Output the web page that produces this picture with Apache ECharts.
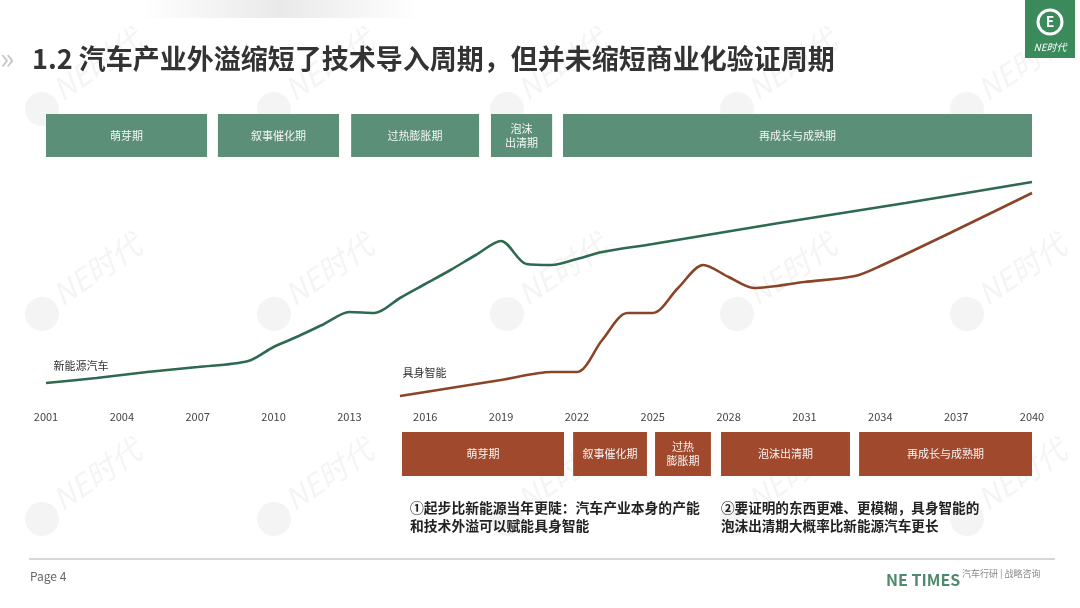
<!DOCTYPE html>
<html><head><meta charset="utf-8">
<script src="https://cdn.jsdelivr.net/npm/echarts@6/dist/echarts.min.js"></script>
<style>html,body{margin:0;padding:0;background:#fff}#c{width:1080px;height:608px}</style>
</head><body><div id="c"></div>
<script>
// ---- data ----
const xTicks = [2001,2004,2007,2010,2013,2016,2019,2022,2025,2028,2031,2034,2037,2040];
const nevName = '新能源汽车';
const nevYears  = [2001,2003,2005,2007,2009,2010,2011,2012,2013,2014,2015,2016,2017,2018,2019,2020,2021,2022,2023,2025,2030,2035,2040];
const nevValues = [17,22,28,33,39,53,64,76,88,87,102,116,130,145,159,136,135,141,148,156,177,197,218];
const eaiName = '具身智能';
const eaiYears  = [2015,2017,2019,2021,2022,2023,2024,2025,2026,2027,2028,2029,2031,2033,2034,2037,2040];
const eaiValues = [4,12,20,28,28,60,87,87,112,135,123,112,118,124,134,170,207];
const nevPhaseNames = ['萌芽期','叙事催化期','过热膨胀期','泡沫\n出清期','再成长与成熟期'];
const nevPhaseStart = [2001.0, 2007.8, 2013.07, 2018.6, 2021.45];
const nevPhaseEnd   = [2007.37, 2012.59, 2018.13, 2021.02, 2040];
const eaiPhaseNames = ['萌芽期','叙事催化期','过热\n膨胀期','泡沫出清期','再成长与成熟期'];
const eaiPhaseStart = [2015.08, 2021.85, 2025.09, 2027.7, 2033.16];
const eaiPhaseEnd   = [2021.49, 2024.77, 2027.3, 2032.8, 2040];
const titleText = '1.2 汽车产业外溢缩短了技术导入周期，但并未缩短商业化验证周期';
const note1 = '①起步比新能源当年更陡：汽车产业本身的产能\n和技术外溢可以赋能具身智能';
const note2 = '②要证明的东西更难、更模糊，具身智能的\n泡沫出清期大概率比新能源汽车更长';

// ---- styles ----
const FONT = '"Noto Sans CJK SC","Noto Sans",sans-serif';
const GREEN_BOX = '#5b8f78', GREEN_LINE = '#2e6a4f';
const BROWN_BOX = '#a1492c', BROWN_LINE = '#8a4427';

function phaseRender(names, y0, y1, fill) {
  return function (params, api) {
    const s = api.coord([api.value(0), 0])[0];
    const e = api.coord([api.value(1), 0])[0];
    return { type: 'group', children: [
      { type: 'rect', shape: { x: s, y: y0, width: e - s, height: y1 - y0 }, style: { fill: fill } },
      { type: 'text', style: { text: names[params.dataIndex], x: (s + e) / 2, y: (y0 + y1) / 2,
          align: 'center', verticalAlign: 'middle', fill: '#f6f6f6',
          font: '11px ' + FONT, lineHeight: 14 } }
    ]};
  };
}

function lineLabel(name, x, y, off) {
  return { symbol: 'circle', symbolSize: 1, silent: true,
    itemStyle: { color: 'rgba(0,0,0,0)' },
    data: [{ coord: [x, y], label: { show: true, formatter: name, position: 'right', distance: 5,
      offset: off, color: '#333', fontSize: 11, fontFamily: FONT } }] };
}

// watermarks
const wm = [];
[95, 300, 505].forEach(cy => {
  [80, 312, 545, 775, 1005].forEach(cx => {
    wm.push({ type: 'circle', silent: true, z: -10, shape: { cx: cx - 38, cy: cy + 14, r: 17 },
      style: { fill: 'rgba(205,205,205,0.22)' } });
    wm.push({ type: 'text', silent: true, z: -10, x: cx - 16, y: cy + 10, rotation: 0.6,
      style: { text: 'NE时代', font: 'italic 30px ' + FONT, fill: 'rgba(205,205,205,0.22)',
        verticalAlign: 'bottom' } });
  });
});

const chart = echarts.init(document.getElementById('c'));
chart.setOption({
  backgroundColor: '#ffffff',
  animation: false,
  grid: { left: 46, right: 48, top: 160, bottom: 208 },
  xAxis: { type: 'value', min: 2001, max: 2040, interval: 3,
    axisLine: { show: false }, axisTick: { show: false }, splitLine: { show: false },
    axisLabel: { margin: 11, color: '#444', fontSize: 11, fontFamily: FONT,
      formatter: v => xTicks.indexOf(v) >= 0 ? String(v) : '' } },
  yAxis: { type: 'value', min: 0, max: 240, show: false },
  graphic: wm.concat([
    { type: 'rect', silent: true, shape: { x: 140, y: 0, width: 280, height: 18 },
      style: { fill: new echarts.graphic.LinearGradient(0, 0, 1, 0, [
        { offset: 0, color: 'rgba(228,228,228,0)' }, { offset: 0.5, color: 'rgba(228,228,228,0.8)' },
        { offset: 1, color: 'rgba(228,228,228,0)' }]) } },
    { type: 'text', x: 0, y: 58, style: { text: '»', font: '30px ' + FONT, fill: '#c8c8c8', verticalAlign: 'middle' } },
    { type: 'text', x: 32, y: 59, style: { text: titleText, font: 'bold 27px ' + FONT, fill: '#333', verticalAlign: 'middle' } },
    // logo
    { type: 'rect', shape: { x: 1025, y: 0, width: 50, height: 58 }, style: { fill: '#3a8a5b' } },
    { type: 'circle', shape: { cx: 1050, cy: 22, r: 12 }, style: { fill: 'none', stroke: '#fff', lineWidth: 3 } },
    { type: 'text', x: 1050, y: 22, style: { text: 'E', font: 'bold 14px ' + FONT, fill: '#fff', align: 'center', verticalAlign: 'middle' } },
    { type: 'text', x: 1050, y: 47, style: { text: 'NE时代', font: 'italic 10px ' + FONT, fill: '#fff', align: 'center', verticalAlign: 'middle' } },
    // notes
    { type: 'text', x: 410, y: 499, style: { text: note1, font: 'bold 13.8px ' + FONT, fill: '#222', lineHeight: 18 } },
    { type: 'text', x: 721, y: 499, style: { text: note2, font: 'bold 13.6px ' + FONT, fill: '#222', lineHeight: 18 } },
    // footer
    { type: 'line', shape: { x1: 29, y1: 559, x2: 1055, y2: 559 }, style: { stroke: '#b0b0b0', lineWidth: 1 } },
    { type: 'text', x: 30, y: 576, style: { text: 'Page 4', font: '12px ' + FONT, fill: '#666', verticalAlign: 'middle' } },
    { type: 'text', x: 886, y: 580, style: { text: 'NE TIMES', font: 'bold 16px ' + FONT, fill: '#4f8a6c', verticalAlign: 'middle' } },
    { type: 'text', x: 962, y: 574, style: { text: '汽车行研 | 战略咨询', font: '9px ' + FONT, fill: '#888', verticalAlign: 'middle' } }
  ]),
  series: [
    { type: 'custom', name: 'nevPhases', renderItem: phaseRender(nevPhaseNames, 114, 157, GREEN_BOX),
      encode: { x: [0, 1] }, data: nevPhaseStart.map((s, i) => [s, nevPhaseEnd[i]]), silent: true },
    { type: 'custom', name: 'eaiPhases', renderItem: phaseRender(eaiPhaseNames, 432, 476, BROWN_BOX),
      encode: { x: [0, 1] }, data: eaiPhaseStart.map((s, i) => [s, eaiPhaseEnd[i]]), silent: true },
    { type: 'line', name: nevName, smooth: 0.3, showSymbol: false,
      lineStyle: { color: GREEN_LINE, width: 2.6 },
      data: nevYears.map((y, i) => [y, nevValues[i]]),
      markPoint: lineLabel(nevName, nevYears[0], nevValues[0], [2, -17]) },
    { type: 'line', name: eaiName, smooth: 0.3, showSymbol: false,
      lineStyle: { color: BROWN_LINE, width: 2.6 },
      data: eaiYears.map((y, i) => [y, eaiValues[i]]),
      markPoint: lineLabel(eaiName, eaiYears[0], eaiValues[0], [-3, -23]) }
  ]
});
</script></body></html>
